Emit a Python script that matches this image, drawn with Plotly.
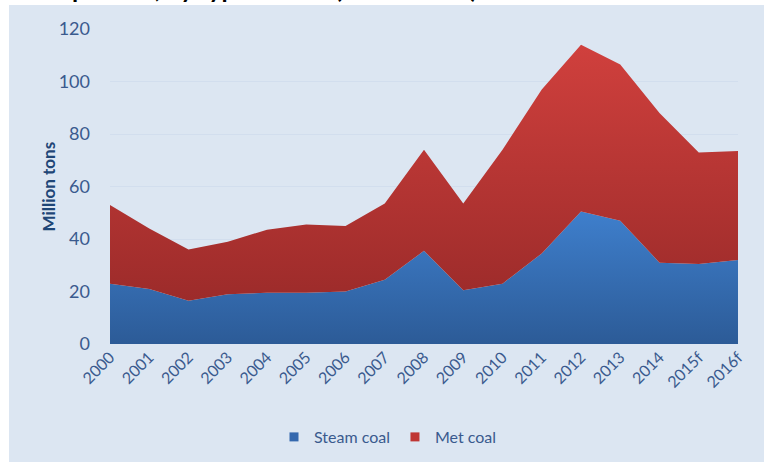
import plotly.graph_objects as go

years = ["2000", "2001", "2002", "2003", "2004", "2005", "2006", "2007", "2008",
         "2009", "2010", "2011", "2012", "2013", "2014", "2015f", "2016f"]
steam_coal = [23, 21, 16.5, 19, 19.5, 19.5, 20, 24.5, 35.5, 20.5, 23, 34.5, 50.5, 47, 31, 30.5, 32]
met_coal = [30, 23, 19.5, 20, 24, 26, 25, 29, 38.5, 33, 51, 62.5, 63.5, 59.5, 57, 42.5, 41.5]

BG = "#DCE6F2"
TICK = "#3A5A8E"
TITLE = "#1F4677"
FONT = dict(family="Lato, 'Open Sans', sans-serif", color=TICK)

fig = go.Figure()
fig.add_trace(go.Scatter(
    x=years, y=steam_coal, name="Steam coal", mode="none", stackgroup="one",
    fillgradient=dict(type="vertical", start=0, stop=52,
                      colorscale=[[0, "#2C5B97"], [1, "#3F80CE"]]),
    showlegend=False))
fig.add_trace(go.Scatter(
    x=years, y=met_coal, name="Met coal", mode="none", stackgroup="one",
    fillgradient=dict(type="vertical", start=16, stop=114,
                      colorscale=[[0, "#9C2B2A"], [1, "#D0403D"]]),
    showlegend=False))

# legend keys as small squares
for name, col in [("Steam coal", "#3468AE"), ("Met coal", "#BF3634")]:
    fig.add_trace(go.Scatter(x=[None], y=[None], mode="markers", name=name,
                             marker=dict(symbol="square", size=9, color=col)))

# panel background
fig.add_shape(type="rect", xref="paper", yref="paper", layer="below",
              x0=(9 - 110) / 628, x1=(764 - 110) / 628,
              y0=(344 - 462) / 315, y1=(344 - 5) / 315,
              fillcolor=BG, line=dict(width=0))

# cut-off title at the top of the picture
fig.add_annotation(text="<b>Shipments, by type of coal (million tons)</b>",
                   xref="paper", yref="paper", x=(36 - 110) / 628, xanchor="left",
                   y=(344 - 4.5) / 315, yanchor="bottom", showarrow=False,
                   font=dict(family="Lato, sans-serif", size=25, color="#000000"))

# y-axis title
fig.add_annotation(text="<b>Million tons</b>", textangle=-90,
                   xref="paper", yref="paper", x=(48 - 110) / 628, xanchor="center",
                   y=0.5, yanchor="middle", showarrow=False,
                   font=dict(size=17, color=TITLE))

fig.update_layout(
    width=764, height=465, font=FONT,
    margin=dict(l=110, r=26, t=29, b=121, autoexpand=False),
    paper_bgcolor="#FFFFFF", plot_bgcolor="rgba(0,0,0,0)",
    legend=dict(orientation="h", x=(388 - 110) / 628, xanchor="center",
                y=(344 - 437) / 315, yanchor="middle", traceorder="normal",
                font=dict(size=16, color=TICK), itemwidth=30,
                bgcolor="rgba(0,0,0,0)"),
)
fig.update_xaxes(type="category", range=[0, 16], showgrid=False, zeroline=False,
                 showline=False, ticks="", tickangle=-45, automargin=False,
                 tickfont=dict(size=16, color=TICK))
fig.update_yaxes(range=[0, 120], dtick=20, showgrid=True, gridcolor="#D2DEEE",
                 gridwidth=1, zeroline=False, showline=False, ticks="",
                 automargin=False, ticklabelstandoff=19,
                 tickfont=dict(size=18, color=TICK))

fig.write_html("out.html", config={"displayModeBar": False},
               post_script="document.body.style.margin='0px';")
